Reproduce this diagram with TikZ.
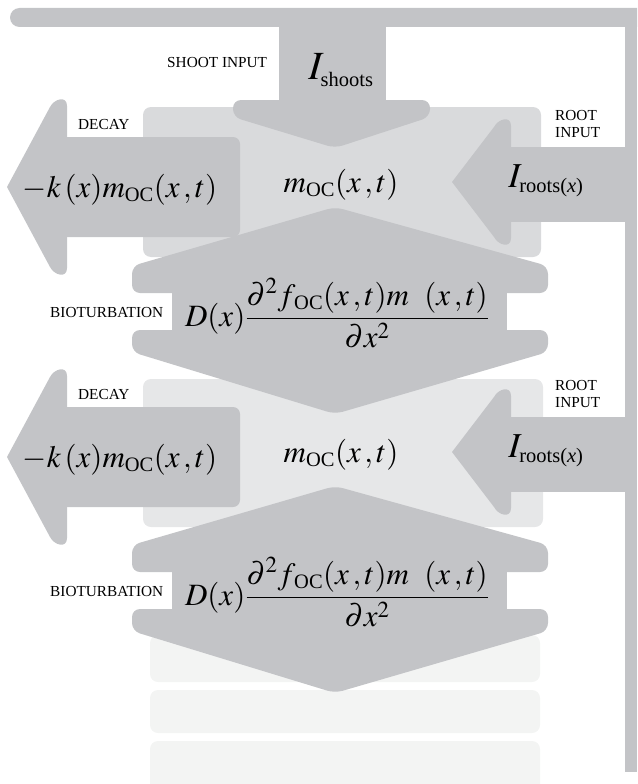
\documentclass[tikz,border=0pt]{standalone}
\usepackage{mathptmx}
\usepackage{fontspec}
\setmainfont{Liberation Serif}
\usetikzlibrary{positioning}

\definecolor{flowgray}{HTML}{C3C4C7}
\definecolor{poolone}{HTML}{D9DADC}
\definecolor{pooltwo}{HTML}{E6E7E8}
\definecolor{poolfaint}{HTML}{F3F4F3}
\newcommand{\subtxt}[1]{\mbox{\fontsize{20.5}{20.5}\selectfont #1}}

\begin{document}
\begin{tikzpicture}[x=1pt, y=-1pt,
    flow/.style={fill=flowgray},
    head/.style={fill=flowgray, rounded corners=8},
    pool/.style={rounded corners=8},
    lbl/.style={font=\fontsize{15.3}{17}\selectfont, inner sep=0pt, align=left},
    eq/.style={font=\fontsize{31}{36}\selectfont, inner sep=0pt}
]
\clip (0,0) rectangle (637,784);

% soil layers
\fill[poolone, pool] (143,107) rectangle (541,257);
\fill[pooltwo, pool] (143,379) rectangle (543,527);
\foreach \ya/\yb in {635/682, 690/733, 741/800}
    \fill[poolfaint, pool] (150,\ya) rectangle (540,\yb);

% plant pipe and shoot input
\fill[flow, rounded corners=9.5] (10,8) rectangle (660,27);
\fill[flow] (625,8) rectangle (637,772);
\fill[flow] (279,20) rectangle (386,104);
\fill[head] (233,100) -- (430,100) -- (430,117) -- (335,148) -- (233,117) -- cycle;
\node[lbl, anchor=base west] (shootlbl) at (167,67) {SHOOT INPUT};
\node[eq, font=\fontsize{40}{40}\selectfont, anchor=base] (ishoots) at (341,80) {$I_{\subtxt{shoots}}$};

% two layers: decay, root input, pool, bioturbation
\foreach \n/\dy/\db in {1/0/0, 2/270/279} {
  \begin{scope}[yshift=-\dy pt]
    \fill[flow, rounded corners=7] (55,137) rectangle (240,237);
    \fill[flow] (7,187) -- (50,107) .. controls (54,99) and (67,95) .. (67,106)
        -- (67,268) .. controls (67,279) and (54,275) .. (50,267) -- cycle;
    \fill[flow] (505,147) rectangle (637,222);
    \fill[flow] (452,182) -- (494,127) .. controls (498,119) and (511,115) .. (511,126)
        -- (511,238) .. controls (511,249) and (498,245) .. (494,237) -- cycle;
    \node[lbl, anchor=base west] (decaylbl\n) at (78,129) {DECAY};
    \node[lbl, anchor=base west] (rootlbl\n) at (555,137) {ROOT\\INPUT};
    \node[eq, anchor=base] (decayeq\n) at (120,197) {$-k\,(x)m_{\subtxt{OC}}(x\,,t)$};
    \node[eq, font=\fontsize{35}{35}\selectfont, anchor=base] (rooteq\n) at (546,187) {$I_{\subtxt{roots(\textit{x})}}$};
    \node[eq, anchor=base] (pooleq\n) at (341,192) {$m_{\subtxt{OC}}(x\,,t)$};
  \end{scope}
  \begin{scope}[yshift=-\db pt]
    \fill[head] (335,207) -- (548,266) -- (548,293) -- (132,293) -- (132,266) -- cycle;
    \fill[flow] (172,290) rectangle (507,333);
    \fill[head] (132,330) -- (548,330) -- (548,352) -- (335,414) -- (132,352) -- cycle;
    \node[lbl, anchor=base west] (biolbl\n) at (50,317) {BIOTURBATION};
    \node[eq, anchor=base] (bioeq\n) at (337,326)
        {$\displaystyle D(x)\frac{\partial^{2} f_{\,\subtxt{OC}}(x\,,t)m\ \ (x\,,t)}{\partial x^{2}}$};
  \end{scope}
}
\end{tikzpicture}
\end{document}
